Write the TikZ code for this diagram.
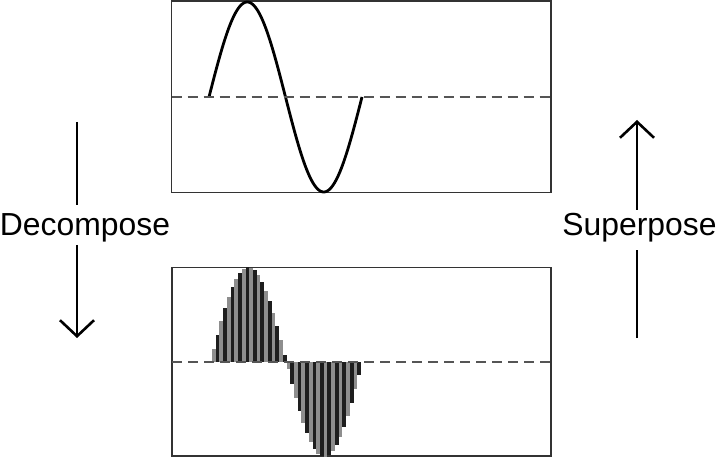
\documentclass[tikz,border=0pt]{standalone}
\usepackage{fontspec}
\setmainfont{Liberation Sans}
\usetikzlibrary{arrows.meta}
\definecolor{boxgray}{HTML}{333333}
\definecolor{dashgray}{HTML}{555555}
\definecolor{bargray}{HTML}{8E8E8E}
\definecolor{barblack}{HTML}{1E1E1E}
\tikzset{
  panel/.style={draw=boxgray, line width=1.4bp},
  midline/.style={draw=dashgray, line width=1.3bp, dash pattern=on 10bp off 6bp},
  wave/.style={draw=black, line width=2.8bp, line join=round},
  flow/.style={draw=black, line width=2.3bp},
  flowtip/.style={flow, -{Straight Barb[length=16bp, width=34bp, line width=2.6bp]}},
  lbl/.style={font=\fontsize{32}{38}\selectfont, inner sep=0pt, anchor=base}
}
\begin{document}
\begin{tikzpicture}[x=1bp, y=-1bp]
\useasboundingbox (0,0) rectangle (717,459);
% panels
\draw[panel] (171.5,1) rectangle (551,192.5);
\draw[panel] (172,267.5) rectangle (551,456);
% top sine
\draw[wave] plot[domain=209:362, samples=120, smooth] (\x, {97 - 95*sin((\x-209)*2.352941)});
\draw[midline] (171.5,97) -- (551,97);
% bottom bars
\foreach \i in {0,...,39} {
  \pgfmathsetmacro{\xa}{212 + \i*3.725}
  \pgfmathsetmacro{\xb}{\xa + 3.725}
  \pgfmathsetmacro{\hh}{95*sin((\xa + 1.8625 - 210.5)*2.368421)}
  \pgfmathtruncatemacro{\parity}{mod(\i,2)}
  \ifnum\parity=0
    \fill[bargray] (\xa,362) rectangle (\xb,{362-\hh});
  \else
    \fill[barblack] (\xa,362) rectangle (\xb,{362-\hh});
  \fi
}
\draw[midline] (172,362) -- (551,362);
% labels
\node[lbl] (dec) at (85,235.7) {Decompose};
\node[lbl] (sup) at (639.5,235.3) {Superpose};
% arrows
\coordinate (dtop) at (77,122);
\coordinate (dm1) at (77,205);
\coordinate (dm2) at (77,245);
\coordinate (dtip) at (77,338);
\coordinate (sbot) at (637,338);
\coordinate (sm1) at (637,250);
\coordinate (sm2) at (637,210);
\coordinate (stip) at (637,120);
\draw[flow] (dtop) -- (dm1);
\draw[flowtip] (dm2) -- (dtip);
\draw[flow] (sbot) -- (sm1);
\draw[flowtip] (sm2) -- (stip);
\end{tikzpicture}
\end{document}
